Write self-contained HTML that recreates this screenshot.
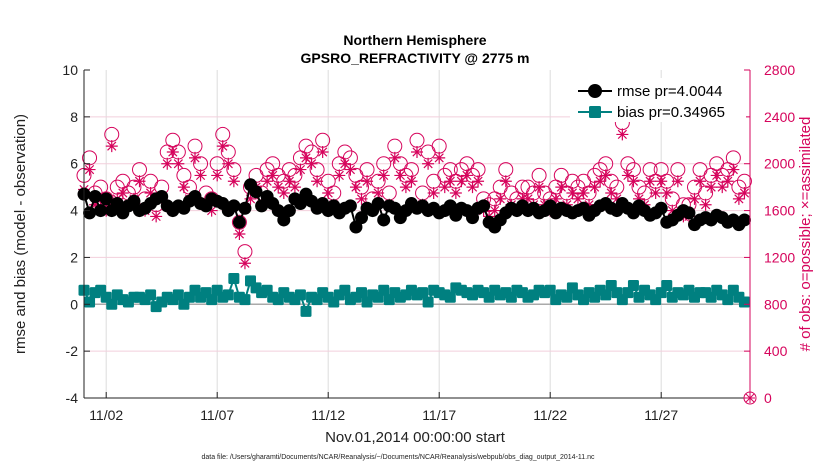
<!DOCTYPE html>
<html><head><meta charset="utf-8"><style>
body{margin:0;background:#fff;font-family:"Liberation Sans",sans-serif}
svg{display:block}
</style></head><body>
<svg id="chart" width="830" height="470" xmlns="http://www.w3.org/2000/svg" font-family="Liberation Sans, sans-serif"></svg>
<script>
const tickDays=[1,6,11,16,21,26];
const tickLabels=["11/02","11/07","11/12","11/17","11/22","11/27"];
const leftTicks=[10,8,6,4,2,0,-2,-4];
const rightTicks=[0,400,800,1200,1600,2000,2400,2800];
const rmse=[4.7,3.9,4.6,4.0, 4.5,4.0,4.3,3.9, 4.2,4.4,4.0,4.1, 4.3,4.5,4.6,4.2, 4.0,4.2,4.1,4.4, 4.6,4.3,4.2,4.5, 4.4,4.3,4.0,4.2, 3.5,4.1,5.1,4.8, 4.2,4.6,4.3,4.0, 3.6,4.0,4.5,4.3, 4.7,4.4,4.1,4.3, 4.0,4.2,3.9,4.1, 4.2,3.3,3.7,4.1, 4.0,4.3,3.6,4.2, 4.1,3.7,4.0,4.3, 4.1,4.2,4.0,4.1, 3.9,4.0,4.2,3.8, 4.1,4.0,3.7,4.1, 4.2,3.5,3.3,3.6, 3.9,4.1,4.0,4.2, 4.0,4.1,3.9,4.0, 4.2,3.9,4.1,4.0, 3.9,4.0,4.1,3.8, 4.0,4.2,4.3,4.1, 4.0,4.3,4.1,3.9, 4.2,4.0,3.8,3.9, 4.1,3.5,3.6,3.8, 4.0,3.9,3.4,3.6, 3.7,3.6,3.8,3.7, 3.5,3.6,3.4,3.6];
const bias=[0.6,0.1,0.5,0.6, 0.3,0.0,0.4,0.2, 0.1,0.3,0.3,0.2, 0.4,-0.1,0.1,0.3, 0.2,0.4,0.0,0.3, 0.6,0.3,0.5,0.2, 0.6,0.3,0.4,1.1, 0.3,0.2,1.0,0.7, 0.5,0.6,0.3,0.2, 0.5,0.3,0.2,0.4, -0.3,0.3,0.2,0.5, 0.3,0.1,0.4,0.6, 0.2,0.3,0.5,0.1, 0.4,0.3,0.6,0.2, 0.5,0.3,0.4,0.6, 0.4,0.5,0.1,0.6, 0.5,0.4,0.3,0.7, 0.6,0.5,0.4,0.6, 0.5,0.3,0.6,0.4, 0.5,0.3,0.6,0.5, 0.3,0.4,0.6,0.5, 0.6,0.2,0.4,0.3, 0.7,0.4,0.2,0.5, 0.3,0.6,0.4,0.8, 0.5,0.2,0.5,0.8, 0.3,0.6,0.4,0.2, 0.5,0.8,0.3,0.5, 0.4,0.6,0.3,0.5, 0.5,0.3,0.6,0.4, 0.2,0.6,0.3,0.1];
const possible=[1900,2050,1750,1800, 1700,2250,1800,1850, 1750,1800,1950,1700, 1850,1650,1800,2100, 2200,2100,1900,1800, 2150,2000,1750,1700, 2000,2250,2100,1950, 1500,1250,1800,1900, 1750,1950,2000,1900, 1850,1950,1900,2050, 2150,2100,1950,2200, 1850,1750,2000,2100, 2050,1900,1800,1950, 1700,1850,2000,1750, 2150,2000,1900,1950, 2200,1750,2100,1850, 2150,1900,1950,1850, 1950,2000,1900,1950, 1700,1650,1700,1800, 1950,1750,1700,1800, 1800,1750,1900,1750, 1700,1800,1900,1750, 1850,1800,1850,1750, 1900,1950,2000,1850, 1800,2350,2000,1950, 1800,1750,1950,1850, 1950,1850,1700,1950, 1650,1650,1800,1950, 1750,1900,2000,1900, 1950,2050,1800,1850];
const assimilated=[1780,1950,1650,1700, 1600,2150,1700,1750, 1650,1700,1850,1600, 1750,1550,1700,2000, 2100,2000,1800,1700, 2050,1900,1650,1600, 1900,2150,2000,1850, 1400,1150,1700,1800, 1650,1850,1900,1800, 1750,1850,1800,1950, 2050,2000,1850,2100, 1750,1650,1900,2000, 1950,1800,1700,1850, 1600,1750,1900,1650, 2050,1900,1800,1850, 2100,1650,2000,1750, 2050,1800,1850,1750, 1850,1900,1800,1850, 1600,1550,1600,1700, 1850,1650,1600,1700, 1700,1650,1800,1650, 1600,1700,1800,1650, 1750,1700,1750,1650, 1800,1850,1900,1750, 1700,2250,1900,1850, 1700,1650,1850,1750, 1850,1750,1600,1850, 1550,1550,1700,1850, 1650,1800,1900,1800, 1850,1950,1700,1750];

const L=84,R=750,T=70,B=398,PINK="#d6045c",TEAL="#008080";
const xS=d=>L+(d-0)/(30-0)*(R-L);
const yL=v=>B-(v+4)/14*(B-T);
const yR=v=>B-v/2800*(B-T);
const svg=document.getElementById('chart');
const NS="http://www.w3.org/2000/svg";
function mk(tag,attrs,parent,text){const e=document.createElementNS(NS,tag);for(const k in attrs)e.setAttribute(k,attrs[k]);if(text!==undefined)e.textContent=text;(parent||svg).appendChild(e);return e;}
const day=i=>i*0.25;

// grids
const grid=mk('g',{});


tickDays.forEach(d=>mk('line',{x1:xS(d),x2:xS(d),y1:T,y2:B,stroke:'#ddd','stroke-width':1},grid));
rightTicks.forEach(v=>{if(v>0&&v<2800)mk('line',{x1:L,x2:R,y1:yR(v),y2:yR(v),stroke:'#f2cfdc','stroke-width':1},grid);});
mk('line',{x1:L,x2:R,y1:yL(0),y2:yL(0),stroke:'#aaa','stroke-width':1.5},grid);

// obs count series
const poss=mk('g',{});


possible.forEach((v,i)=>mk('circle',{cx:xS(day(i)),cy:yR(v),r:7,fill:'none',stroke:PINK,'stroke-width':1},poss));
const asm=mk('g',{});


assimilated.forEach((v,i)=>{const x=xS(day(i)),y=yR(v),s=6;
 mk('path',{d:`M${x-s} ${y}H${x+s}M${x} ${y-s}V${y+s}M${x-s*0.7} ${y-s*0.7}L${x+s*0.7} ${y+s*0.7}M${x-s*0.7} ${y+s*0.7}L${x+s*0.7} ${y-s*0.7}`,stroke:PINK,'stroke-width':1.2},asm);});

// rmse
const rg=mk('g',{});


mk('polyline',{points:rmse.map((v,i)=>xS(day(i))+','+yL(v)).join(' '),fill:'none',stroke:'#000','stroke-width':2},rg);
rmse.forEach((v,i)=>mk('circle',{cx:xS(day(i)),cy:yL(v),r:6.5,fill:'#000'},rg));
// bias
const bg=mk('g',{});


mk('polyline',{points:bias.map((v,i)=>xS(day(i))+','+yL(v)).join(' '),fill:'none',stroke:TEAL,'stroke-width':2},bg);
bias.forEach((v,i)=>mk('rect',{x:xS(day(i))-5.5,y:yL(v)-5.5,width:11,height:11,rx:1.5,fill:TEAL},bg));

// axes
const ax=mk('g',{});


mk('line',{x1:L,x2:L,y1:T,y2:B,stroke:'#222','stroke-width':1},ax);
mk('line',{x1:L,x2:R,y1:B,y2:B,stroke:'#222','stroke-width':1},ax);
mk('line',{x1:R,x2:R,y1:T,y2:B,stroke:PINK,'stroke-width':1},ax);
leftTicks.forEach(v=>{mk('line',{x1:L,x2:L+6,y1:yL(v),y2:yL(v),stroke:'#222'},ax);
 mk('text',{x:L-6,y:yL(v)+5,'text-anchor':'end','font-size':14,fill:'#222'},ax,String(v));});
rightTicks.forEach(v=>{mk('line',{x1:R-6,x2:R,y1:yR(v),y2:yR(v),stroke:PINK},ax);
 mk('text',{x:R+14,y:yR(v)+5,'font-size':14,fill:PINK},ax,String(v));});
tickDays.forEach((d,i)=>{mk('line',{x1:xS(d),x2:xS(d),y1:B,y2:B-6,stroke:'#222'},ax);
 mk('text',{x:xS(d),y:420,'text-anchor':'middle','font-size':14,fill:'#222'},ax,tickLabels[i]);});
// edge marker at zero
mk('circle',{cx:R,cy:B,r:6,fill:'none',stroke:PINK},ax);
mk('path',{d:`M${R-5} ${B}H${R+5}M${R} ${B-5}V${B+5}M${R-4} ${B-4}L${R+4} ${B+4}M${R-4} ${B+4}L${R+4} ${B-4}`,stroke:PINK},ax);

// labels
const t1=mk('text',{x:415,y:45,'text-anchor':'middle','font-size':14,'font-weight':'bold',fill:'#000'},svg,'Northern Hemisphere');


const t2=mk('text',{x:415,y:63,'text-anchor':'middle','font-size':14,'font-weight':'bold',fill:'#000'},svg,'GPSRO_REFRACTIVITY @ 2775 m');


const yl=mk('text',{x:0,y:0,transform:'translate(25,234) rotate(-90)','text-anchor':'middle','font-size':15,fill:'#222'},svg,'rmse and bias (model - observation)');


const yr=mk('text',{x:0,y:0,transform:'translate(810,234) rotate(-90)','text-anchor':'middle','font-size':15,fill:PINK},svg,'# of obs: o=possible; \u00d7=assimilated');


const xl=mk('text',{x:415,y:442,'text-anchor':'middle','font-size':15,fill:'#222'},svg,'Nov.01,2014 00:00:00 start');


const df=mk('text',{x:398,y:459,'text-anchor':'middle','font-size':7,fill:'#222'},svg,'data file: /Users/gharamti/Documents/NCAR/Reanalysis/~/Documents/NCAR/Reanalysis/webpub/obs_diag_output_2014-11.nc');



// legend
const lg=mk('g',{});


mk('rect',{x:570,y:78,width:176,height:44,fill:'#fff'},lg);
const le1=mk('g',{},lg);


mk('line',{x1:578,x2:612,y1:91,y2:91,stroke:'#000','stroke-width':2},le1);
mk('circle',{cx:595,cy:91,r:7,fill:'#000'},le1);
mk('text',{x:617,y:96,'font-size':15,fill:'#000'},le1,'rmse pr=4.0044');
const le2=mk('g',{},lg);


mk('line',{x1:578,x2:612,y1:112,y2:112,stroke:TEAL,'stroke-width':2},le2);
mk('rect',{x:589,y:106,width:12,height:12,rx:1.5,fill:TEAL},le2);
mk('text',{x:617,y:117,'font-size':15,fill:'#000'},le2,'bias pr=0.34965');
</script>
</body></html>
